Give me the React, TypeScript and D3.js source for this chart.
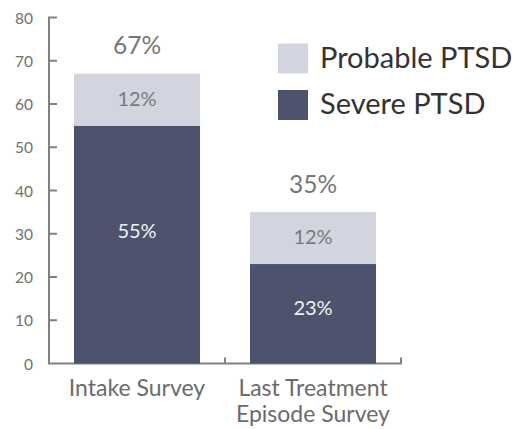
import React from "react";
import * as d3 from "d3";

const categories = [["Intake Survey"], ["Last Treatment", "Episode Survey"]];
const severe = [55, 23];
const probable = [12, 12];
const totals = [67, 35];
const yTicks = [0, 10, 20, 30, 40, 50, 60, 70, 80];
const seriesNames = ["Probable PTSD", "Severe PTSD"];

const W = 519, H = 429;
const LIGHT = "#d2d5df";
const DARK = "#4e536d";
const AXIS = "#808080";
const FONT = "Lato, 'Open Sans', sans-serif";

export default function App() {
  const y = d3.scaleLinear().domain([0, 80]).range([363.5, 17.5]);
  const x = d3.scaleBand<number>().domain([0, 1]).range([49, 401]).paddingInner(0.284).paddingOuter(0.142);
  const midTick = x(1)! - (x.step() - x.bandwidth()) / 2;
  return (
    <svg width={W} height={H} style={{ position: "absolute", left: 0, top: 0, fontFamily: FONT }}>
      <path d={`M57,${y(80)}H49V${y(0)}H401V${y(0) - 6}`} fill="none" stroke={AXIS} strokeWidth={2} />
      <line x1={midTick} x2={midTick} y1={y(0)} y2={y(0) - 6} stroke={AXIS} strokeWidth={2} />
      {yTicks.map((t) => (
        <g key={t}>
          {t > 0 && t < 80 && <line x1={49} x2={57} y1={y(t)} y2={y(t)} stroke={AXIS} strokeWidth={2} />}
          <text x={33} y={y(t) + 6} textAnchor="end" fontSize={15.5} fill="#707070">{t}</text>
        </g>
      ))}
      {categories.map((c, i) => {
        const bx = x(i)!;
        const bw = x.bandwidth();
        const cx = bx + bw / 2;
        return (
          <g key={i}>
            <rect x={bx} width={bw} y={y(severe[i])} height={y(0) - y(severe[i])} fill={DARK} />
            <rect x={bx} width={bw} y={y(totals[i])} height={y(severe[i]) - y(totals[i])} fill={LIGHT} />
            <text x={cx} y={y(totals[i]) - 19.5} textAnchor="middle" fontSize={24.5} fill="#777">{totals[i]}%</text>
            <text x={cx} y={(y(totals[i]) + y(severe[i])) / 2 + 6} textAnchor="middle" fontSize={20} fill="#7a7a7a">{probable[i]}%</text>
            <text x={cx} y={y(severe[i] * 0.56) + 7.5} textAnchor="middle" fontSize={20} fill="#f2f2f2">{severe[i]}%</text>
            {c.map((line, j) => (
              <text key={j} x={cx} y={396 + j * 26} textAnchor="middle" fontSize={23} fill="#6b6b6b">{line}</text>
            ))}
          </g>
        );
      })}
      {seriesNames.map((s, i) => (
        <g key={s}>
          <rect x={278} y={43.5 + i * 46.5} width={30} height={30} fill={i === 0 ? LIGHT : DARK} />
          <text x={320} y={67.5 + i * 46.5} fontSize={29} fill="#333">{s}</text>
        </g>
      ))}
    </svg>
  );
}
